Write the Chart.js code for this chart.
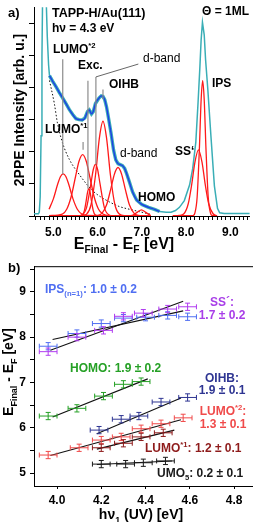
<!DOCTYPE html>
<html>
<head>
<meta charset="utf-8">
<script src="https://cdn.jsdelivr.net/npm/chart.js@4.4.1/dist/chart.umd.min.js"></script>
<style>
  html, body { margin: 0; padding: 0; background: #fff; }
  #wrap { position: relative; width: 253px; height: 522px; overflow: hidden; }
  #boxA { position: absolute; left: 0; top: 0; width: 253px; height: 255px; }
  #boxB { position: absolute; left: 0; top: 255px; width: 253px; height: 267px; }
</style>
</head>
<body>
<div id="wrap">
  <div id="boxA"><canvas id="chartA"></canvas></div>
  <div id="boxB"><canvas id="chartB"></canvas></div>
</div>
<script>
// ---- panel a) 2PPE spectrum ----
const specE = [4.56, 4.66, 4.68, 4.70, 4.72, 4.74, 4.76, 4.80, 4.83, 4.86, 4.89, 4.91, 4.98, 5.06, 5.13, 5.21, 5.29, 5.36, 5.44, 5.51,
               5.58, 5.65, 5.71, 5.77, 5.81, 5.86, 5.90, 5.95, 6.03, 6.08, 6.12, 6.16, 6.20, 6.25, 6.30, 6.36, 6.41, 6.46, 6.51, 6.56,
               6.61, 6.66, 6.72, 6.79, 6.88, 7.00, 7.15, 7.30, 7.40, 7.55, 7.66, 7.76, 7.85, 7.96, 8.08, 8.15, 8.22, 8.27, 8.31, 8.34,
               8.37, 8.41, 8.44, 8.49, 8.56, 8.64, 8.71, 8.76, 8.86, 9.44];
const specI = [0.07, 0.07, 0.12, 0.6, 2.5, 5.0, 7.5, 8.0, 7.0, 5.6, 4.7, 4.37, 4.2, 4.02, 3.85, 3.67, 3.48, 3.31, 3.15, 3.03,
               3.0, 2.99, 3.05, 3.25, 3.30, 3.18, 3.25, 3.50, 3.67, 3.74, 3.72, 3.62, 3.40, 3.01, 2.6, 2.05, 1.75, 1.63, 1.60, 1.57,
               1.48, 1.30, 1.05, 0.75, 0.50, 0.36, 0.27, 0.2, 0.14, 0.12, 0.12, 0.17, 0.27, 0.48, 0.97, 1.48, 2.30, 3.52, 4.58, 5.48,
               6.03, 5.64, 4.88, 3.97, 2.52, 0.94, 0.24, 0.10, 0.076, 0.076];

// secondary-electron background (dotted)
const bgE = [4.91, 5.02, 5.09, 5.20, 5.36, 5.58, 5.80, 5.96, 6.25, 6.48, 6.81, 7.21];
const bgI = [4.22, 3.5, 2.9, 2.3, 1.76, 1.3, 0.91, 0.7, 0.45, 0.3, 0.18, 0.05];

// fitted peak components (red)
const lumo2E = [4.90, 5.00, 5.10, 5.16, 5.22, 5.28, 5.34, 5.44, 5.54, 5.64, 5.75, 7.20];
const lumo2I = [0.21, 0.54, 1.01, 1.23, 1.31, 1.23, 1.01, 0.54, 0.21, 0.06, 0.02, 0.01];
const lumo1E = [4.90, 5.20, 5.30, 5.40, 5.50, 5.58, 5.66, 5.74, 5.82, 5.92, 6.02, 6.12, 6.25, 7.20];
const lumo1I = [0.01, 0.06, 0.21, 0.60, 1.23, 1.71, 1.91, 1.71, 1.23, 0.60, 0.21, 0.06, 0.01, 0.01];
const excE = [4.90, 5.60, 5.66, 5.70, 5.74, 5.77, 5.80, 5.83, 5.86, 5.90, 5.94, 6.00, 7.20];
const excI = [0.01, 0.01, 0.04, 0.17, 0.47, 0.73, 0.85, 0.73, 0.47, 0.17, 0.04, 0.01, 0.01];
const dband1E = [4.90, 5.55, 5.65, 5.75, 5.85, 5.90, 5.95, 6.00, 6.05, 6.15, 6.25, 6.35, 7.20];
const dband1I = [0.01, 0.01, 0.04, 0.27, 1.03, 1.44, 1.61, 1.44, 1.03, 0.27, 0.04, 0.01, 0.01];
const oihbE = [4.90, 5.65, 5.75, 5.85, 5.95, 6.04, 6.12, 6.20, 6.29, 6.39, 6.49, 6.60, 7.20];
const oihbI = [0.01, 0.01, 0.06, 0.35, 1.26, 2.44, 2.95, 2.44, 1.26, 0.35, 0.06, 0.01, 0.01];
const dband2E = [4.90, 5.90, 6.00, 6.10, 6.20, 6.30, 6.38, 6.46, 6.54, 6.62, 6.72, 6.82, 6.92, 7.02, 7.20];
const dband2I = [0.01, 0.01, 0.02, 0.09, 0.34, 0.86, 1.31, 1.51, 1.31, 0.86, 0.34, 0.09, 0.02, 0.01, 0.01];
const homoE = [4.90, 6.70, 6.80, 6.90, 6.99, 7.08, 7.18, 7.20];
const homoI = [0.01, 0.01, 0.03, 0.12, 0.19, 0.12, 0.03, 0.02];
const ssE = [7.70, 7.85, 7.95, 8.05, 8.13, 8.20, 8.28, 8.36, 8.43, 8.51, 8.61, 8.70];
const ssI = [0.01, 0.02, 0.07, 0.39, 1.01, 1.68, 2.06, 1.68, 1.01, 0.39, 0.07, 0.01];
const ipsE = [7.70, 8.15, 8.20, 8.25, 8.30, 8.34, 8.375, 8.41, 8.45, 8.50, 8.55, 8.60, 8.70];
const ipsI = [0.01, 0.01, 0.10, 0.59, 2.08, 3.61, 4.21, 3.61, 2.08, 0.59, 0.10, 0.01, 0.01];

// ---- panel b) peak energy vs photon energy ----
const hvIPS = [3.96, 4.09, 4.20, 4.30, 4.40, 4.50, 4.59];
const eIPS  = [7.80, 8.08, 8.30, 8.42, 8.44, 8.48, 8.45];
const hvSS  = [3.96, 4.09, 4.21, 4.30, 4.39, 4.50, 4.59];
const eSS   = [7.68, 8.00, 8.15, 8.46, 8.53, 8.62, 8.67];
const hvHOMO = [3.96, 4.09, 4.21, 4.30, 4.38];
const eHOMO  = [6.26, 6.43, 6.70, 6.96, 7.02];
const hvOIHB = [4.19, 4.29, 4.37, 4.47, 4.59];
const eOIHB  = [5.95, 6.19, 6.26, 6.57, 6.67];
const hvL2 = [3.96, 4.10, 4.20, 4.29, 4.38, 4.47, 4.57];
const eL2  = [5.40, 5.56, 5.73, 5.80, 5.98, 6.09, 6.22];
const hvL1 = [4.20, 4.30, 4.38, 4.48];
const eL1  = [5.56, 5.66, 5.80, 5.89];
const hvUMO = [4.20, 4.31, 4.39, 4.49];
const eUMO  = [5.20, 5.20, 5.23, 5.27];
const hvErr = 0.04;
const eErr = 0.08;

// linear fits (end points)
const fitIPS  = [[3.98, 7.95], [4.57, 8.58]];
const fitSS   = [[3.97, 7.71], [4.57, 8.79]];
const fitHOMO = [[3.98, 6.24], [4.41, 7.08]];
const fitOIHB = [[4.18, 5.87], [4.56, 6.66]];
const fitL2   = [[3.97, 5.39], [4.56, 6.18]];
const fitL1   = [[4.18, 5.53], [4.53, 5.95]];
const fitUMO  = [[4.18, 5.19], [4.52, 5.27]];

const FONT = '"Liberation Sans", Arial, Helvetica, sans-serif';
const RED = '#ff1a1a';

function pts(xs, ys) {
    return xs.map((x, i) => ({ x: x, y: ys[i] }));
}

function isWhole(v) {
    return Math.abs(v - Math.round(v)) < 1e-6;
}

// text with sub/superscripts: parts = [[text, ''|'sub'|'sup'], ...]
function richText(ctx, x, y, parts, size, color, align, weight) {
    weight = weight || 'bold';
    const small = size * 0.64;
    const fontFor = m => weight + ' ' + (m ? small : size) + 'px ' + FONT;
    let total = 0;
    parts.forEach(p => { ctx.font = fontFor(p[1]); total += ctx.measureText(p[0]).width; });
    let cx = align === 'center' ? x - total / 2 : (align === 'right' ? x - total : x);
    ctx.fillStyle = color || '#000';
    ctx.textAlign = 'left';
    ctx.textBaseline = 'alphabetic';
    parts.forEach(p => {
        ctx.font = fontFor(p[1]);
        const dy = p[1] === 'sub' ? size * 0.25 : (p[1] === 'sup' ? -size * 0.42 : 0);
        ctx.fillText(p[0], cx, y + dy);
        cx += ctx.measureText(p[0]).width;
    });
}

function rotatedText(ctx, x, y, parts, size, color) {
    ctx.save();
    ctx.translate(x, y);
    ctx.rotate(-Math.PI / 2);
    richText(ctx, 0, 0, parts, size, color, 'center');
    ctx.restore();
}

const tickFont = { family: FONT, size: 12, weight: 'bold' };

// ---- panel a annotations ----
const labelsA = [
    { x: 8, y: 17, parts: [['a)', '']], size: 13 },
    { x: 52, y: 17, parts: [['TAPP-H/Au(111)', '']], size: 12.5 },
    { x: 52, y: 32, parts: [['h\u03bd = 4.3 eV', '']], size: 12 },
    { x: 249, y: 15, parts: [['\u0398 = 1ML', '']], size: 12, align: 'right' },
    { x: 53, y: 53, parts: [['LUMO', ''], ['*2', 'sup']], size: 12 },
    { x: 78, y: 69, parts: [['Exc.', '']], size: 12 },
    { x: 143, y: 62, parts: [['d-band', '']], size: 12, weight: 'normal' },
    { x: 109, y: 88, parts: [['OIHB', '']], size: 12 },
    { x: 212, y: 87, parts: [['IPS', '']], size: 12 },
    { x: 45, y: 133, parts: [['LUMO', ''], ['*1', 'sup']], size: 12 },
    { x: 120, y: 157, parts: [['d-band', '']], size: 12, weight: 'normal' },
    { x: 175, y: 155, parts: [['SS\u2018', '']], size: 12 },
    { x: 138, y: 201, parts: [['HOMO', '']], size: 12 }
];
// vertical leader lines: [energy, top, bottom] in data units
const leadersA = [[5.21, 4.88, 1.30], [5.67, 2.30, 2.06], [5.78, 4.21, 0.85], [5.96, 4.33, 1.60], [6.12, 3.94, 3.64]];

const annotateA = {
    id: 'annotateA',
    afterDraw(chart) {
        const { ctx, scales: { x, y } } = chart;
        ctx.save();
        ctx.strokeStyle = '#8c8c8c';
        ctx.lineWidth = 1.2;
        leadersA.forEach(l => {
            const px = x.getPixelForValue(l[0]);
            ctx.beginPath();
            ctx.moveTo(px, y.getPixelForValue(l[1]));
            ctx.lineTo(px, y.getPixelForValue(l[2]));
            ctx.stroke();
        });
        // slanted leader to the upper d-band label
        ctx.lineWidth = 0.9;
        ctx.strokeStyle = '#555';
        ctx.beginPath();
        ctx.moveTo(x.getPixelForValue(5.96), y.getPixelForValue(4.33));
        ctx.lineTo(x.getPixelForValue(6.92), y.getPixelForValue(4.73));
        ctx.stroke();

        labelsA.forEach(l => richText(ctx, l.x, l.y, l.parts, l.size, l.color, l.align, l.weight));
        richText(ctx, 124, 249, [['E', ''], ['Final', 'sub'], [' - E', ''], ['F', 'sub'], [' [eV]', '']], 16, '#000', 'center');
        rotatedText(ctx, 24, 110, [['2PPE Intensity [arb. u.]', '']], 14, '#000');
        ctx.restore();
    }
};

function peak(label, xs, ys) {
    return {
        label: label, data: pts(xs, ys), showLine: true, pointRadius: 0,
        borderColor: RED, borderWidth: 1.3, cubicInterpolationMode: 'monotone', order: 1
    };
}

const fitE = specE.filter(e => e >= 4.9 && e <= 7.41);
const fitI = specI.filter((v, i) => specE[i] >= 4.9 && specE[i] <= 7.41);

new Chart(document.getElementById('chartA'), {
    type: 'scatter',
    data: {
        datasets: [
            peak('LUMO*2', lumo2E, lumo2I),
            peak('LUMO*1', lumo1E, lumo1I),
            peak('Exc.', excE, excI),
            peak('d-band 1', dband1E, dband1I),
            peak('OIHB', oihbE, oihbI),
            peak('d-band 2', dband2E, dband2I),
            peak('HOMO', homoE, homoI),
            peak("SS'", ssE, ssI),
            peak('IPS', ipsE, ipsI),
            {
                label: 'background', data: pts(bgE, bgI), showLine: true, pointRadius: 0,
                borderColor: '#111', borderWidth: 1, borderDash: [1.5, 2], cubicInterpolationMode: 'monotone', order: 2
            },
            {
                label: 'fit', data: pts(fitE, fitI), showLine: true, pointRadius: 0,
                borderColor: '#1f3fe6', borderWidth: 1.4, cubicInterpolationMode: 'monotone', order: 3
            },
            {
                label: '2PPE', data: pts(specE, specI), showLine: true, pointRadius: 0,
                borderColor: '#3aaeb6', borderWidth: 1.5, order: 4,
                segment: {
                    borderWidth: c => (c.p0.parsed.x >= 4.9 && c.p1.parsed.x <= 7.45) ? 3.4 : 1.5
                }
            }
        ]
    },
    options: {
        responsive: true,
        maintainAspectRatio: false,
        animation: false,
        devicePixelRatio: 1,
        layout: { padding: { top: 1, right: 1, left: 0, bottom: 0 } },
        plugins: { legend: { display: false }, tooltip: { enabled: false } },
        scales: {
            x: {
                type: 'linear', min: 4.56, max: 9.44,
                afterFit: s => { s.height = 39; },
                border: { display: true, color: '#000', width: 1 },
                grid: { drawOnChartArea: false, drawTicks: true, tickLength: 4, color: '#000' },
                ticks: {
                    stepSize: 0.1, autoSkip: false, maxRotation: 0, minRotation: 0, includeBounds: false,
                    padding: 5, color: '#000', font: tickFont,
                    callback: v => isWhole(v) ? v.toFixed(1) : ''
                }
            },
            y: {
                type: 'linear', min: 0, max: 6.5,
                afterFit: s => { s.width = 34; },
                border: { display: true, color: '#000', width: 1 },
                grid: { drawOnChartArea: false, drawTicks: true, tickLength: 5, color: '#000' },
                ticks: { stepSize: 1, includeBounds: false, padding: 0, callback: () => '' }
            }
        }
    },
    plugins: [annotateA]
});

// ---- panel b ----
const labelsB = [
    { x: 8, y: 17, parts: [['b)', '']], size: 13, color: '#000' },
    { x: 45, y: 38, parts: [['IPS', ''], ['(n=1)', 'sub'], [': 1.0 \u00b1 0.2', '']], size: 12, color: '#4f6ef2' },
    { x: 222, y: 51, parts: [['SS\u00b4:', '']], size: 12, color: '#a83ee8', align: 'center' },
    { x: 222, y: 64, parts: [['1.7 \u00b1 0.2', '']], size: 12, color: '#a83ee8', align: 'center' },
    { x: 70, y: 117, parts: [['HOMO: 1.9 \u00b1 0.2', '']], size: 12, color: '#25a025' },
    { x: 222, y: 127, parts: [['OIHB:', '']], size: 12, color: '#2e3592', align: 'center' },
    { x: 222, y: 139, parts: [['1.9 \u00b1 0.1', '']], size: 12, color: '#2e3592', align: 'center' },
    { x: 223, y: 160, parts: [['LUMO', ''], ['*2', 'sup'], [':', '']], size: 12, color: '#f04a4a', align: 'center' },
    { x: 223, y: 173, parts: [['1.3 \u00b1 0.1', '']], size: 12, color: '#f04a4a', align: 'center' },
    { x: 145, y: 197, parts: [['LUMO', ''], ['*1', 'sup'], [': 1.2 \u00b1 0.1', '']], size: 12, color: '#8e1b1b' },
    { x: 157, y: 222, parts: [['UMO', ''], ['5', 'sub'], [': 0.2 \u00b1 0.1', '']], size: 12, color: '#1a1a1a' }
];

const errorBars = {
    id: 'errorBars',
    afterDatasetsDraw(chart) {
        const { ctx, scales: { x, y } } = chart;
        ctx.save();
        ctx.lineWidth = 1;
        chart.data.datasets.forEach((ds, i) => {
            if (!ds.errX) return;
            ctx.strokeStyle = ds.borderColor;
            ds.data.forEach(p => {
                const cx = x.getPixelForValue(p.x), cy = y.getPixelForValue(p.y);
                const xl = x.getPixelForValue(p.x - ds.errX), xr = x.getPixelForValue(p.x + ds.errX);
                const yt = y.getPixelForValue(p.y + ds.errY), yb = y.getPixelForValue(p.y - ds.errY);
                ctx.beginPath();
                ctx.moveTo(xl, cy); ctx.lineTo(xr, cy);
                ctx.moveTo(xl, cy - 2.5); ctx.lineTo(xl, cy + 2.5);
                ctx.moveTo(xr, cy - 2.5); ctx.lineTo(xr, cy + 2.5);
                ctx.moveTo(cx, yt); ctx.lineTo(cx, yb);
                ctx.moveTo(cx - 2.5, yt); ctx.lineTo(cx + 2.5, yt);
                ctx.moveTo(cx - 2.5, yb); ctx.lineTo(cx + 2.5, yb);
                ctx.stroke();
            });
        });
        ctx.restore();
    },
    afterDraw(chart) {
        const { ctx, chartArea } = chart;
        ctx.save();
        ctx.strokeStyle = '#000';
        ctx.lineWidth = 1;
        ctx.beginPath();
        ctx.moveTo(chartArea.left, chartArea.top + 0.5);
        ctx.lineTo(chartArea.right + 1, chartArea.top + 0.5);
        ctx.stroke();
        labelsB.forEach(l => richText(ctx, l.x, l.y, l.parts, l.size, l.color, l.align));
        richText(ctx, 141, 264, [['h\u03bd', ''], ['1', 'sub'], [' (UV) [eV]', '']], 14, '#000', 'center');
        rotatedText(ctx, 13, 117, [['E', ''], ['Final', 'sub'], [' - E', ''], ['F', 'sub'], [' [eV]', '']], 14, '#000');
        ctx.restore();
    }
};

function series(label, xs, ys, color) {
    return {
        label: label, data: pts(xs, ys), showLine: false, pointRadius: 0,
        borderColor: color, errX: hvErr, errY: eErr, order: 2
    };
}

function fitLine(label, ends) {
    return {
        label: label, data: ends.map(p => ({ x: p[0], y: p[1] })), showLine: true, pointRadius: 0,
        borderColor: '#111', borderWidth: 1.1, order: 1
    };
}

new Chart(document.getElementById('chartB'), {
    type: 'scatter',
    data: {
        datasets: [
            series('IPS', hvIPS, eIPS, '#4f6ef2'),
            series("SS'", hvSS, eSS, '#b03cf0'),
            series('HOMO', hvHOMO, eHOMO, '#25a025'),
            series('OIHB', hvOIHB, eOIHB, '#2e3592'),
            series('LUMO*2', hvL2, eL2, '#f04a4a'),
            series('LUMO*1', hvL1, eL1, '#8e1b1b'),
            series('UMO5', hvUMO, eUMO, '#1a1a1a'),
            fitLine('fit IPS', fitIPS),
            fitLine("fit SS'", fitSS),
            fitLine('fit HOMO', fitHOMO),
            fitLine('fit OIHB', fitOIHB),
            fitLine('fit LUMO*2', fitL2),
            fitLine('fit LUMO*1', fitL1),
            fitLine('fit UMO5', fitUMO)
        ]
    },
    options: {
        responsive: true,
        maintainAspectRatio: false,
        animation: false,
        devicePixelRatio: 1,
        layout: { padding: { top: 8, right: 1, left: 0, bottom: 0 } },
        plugins: { legend: { display: false }, tooltip: { enabled: false } },
        scales: {
            x: {
                type: 'linear', min: 3.896, max: 4.881,
                afterFit: s => { s.height = 36; },
                border: { display: true, color: '#000', width: 1 },
                grid: { drawOnChartArea: false, drawTicks: true, tickLength: 3, color: '#000' },
                ticks: {
                    stepSize: 0.2, autoSkip: false, maxRotation: 0, minRotation: 0, includeBounds: false,
                    padding: 4, color: '#000', font: tickFont,
                    callback: v => v.toFixed(1)
                }
            },
            y: {
                type: 'linear', min: 4.717, max: 9.565,
                afterFit: s => { s.width = 34; },
                border: { display: true, color: '#000', width: 1 },
                grid: { drawOnChartArea: false, drawTicks: true, tickLength: 4, color: '#000' },
                ticks: {
                    stepSize: 0.5, autoSkip: false, includeBounds: false, padding: 4, color: '#000', font: tickFont,
                    callback: v => isWhole(v) ? String(Math.round(v)) : ''
                }
            }
        }
    },
    plugins: [errorBars]
});
</script>
</body>
</html>
